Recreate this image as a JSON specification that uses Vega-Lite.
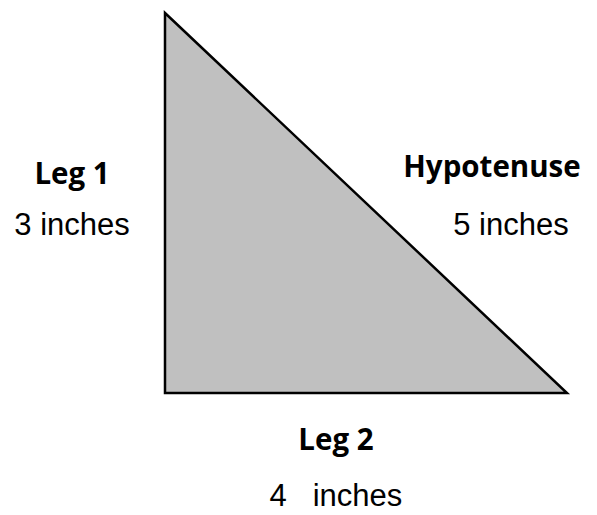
{
  "$schema": "https://vega.github.io/schema/vega-lite/v6.json",
  "width": 597,
  "height": 515,
  "autosize": {"type": "none"},
  "padding": 0,
  "background": "white",
  "config": {"view": {"stroke": null}},
  "datasets": {
    "tri": [
      {"order": 1, "x": 0, "y": 3},
      {"order": 2, "x": 0, "y": 0},
      {"order": 3, "x": 4, "y": 0},
      {"order": 4, "x": 0, "y": 3}
    ],
    "labels": [
      {"text": "Leg 1", "x": -0.925, "y": 1.721, "kind": "title"},
      {"text": "3 inches", "x": -0.925, "y": 1.318, "kind": "value"},
      {"text": "Hypotenuse", "x": 3.254, "y": 1.776, "kind": "title"},
      {"text": "5 inches", "x": 3.443, "y": 1.318, "kind": "value"},
      {"text": "Leg 2", "x": 1.701, "y": -0.379, "kind": "title"},
      {"text": "4\u00a0\u00a0\u00a0inches", "x": 1.701, "y": -0.82, "kind": "value"}
    ]
  },
  "layer": [
    {
      "data": {"name": "tri"},
      "mark": {"type": "line", "fill": "#c0c0c0", "stroke": "#000000", "strokeWidth": 2.5, "interpolate": "linear-closed"},
      "encoding": {
        "x": {"field": "x", "type": "quantitative", "scale": {"domain": [-1.642, 4.299], "nice": false, "zero": false}, "axis": null},
        "y": {"field": "y", "type": "quantitative", "scale": {"domain": [-0.963, 3.1026], "nice": false, "zero": false}, "axis": null},
        "order": {"field": "order"}
      }
    },
    {
      "data": {"name": "labels"},
      "transform": [{"filter": "datum.kind == 'title'"}],
      "mark": {"type": "text", "font": "Open Sans", "fontWeight": "bold", "fontSize": 29.5, "color": "#000000", "baseline": "middle", "align": "center"},
      "encoding": {
        "x": {"field": "x", "type": "quantitative"},
        "y": {"field": "y", "type": "quantitative"},
        "text": {"field": "text"}
      }
    },
    {
      "data": {"name": "labels"},
      "transform": [{"filter": "datum.kind == 'value'"}],
      "mark": {"type": "text", "font": "Liberation Sans", "fontSize": 31, "color": "#000000", "baseline": "middle", "align": "center"},
      "encoding": {
        "x": {"field": "x", "type": "quantitative"},
        "y": {"field": "y", "type": "quantitative"},
        "text": {"field": "text"}
      }
    }
  ]
}
